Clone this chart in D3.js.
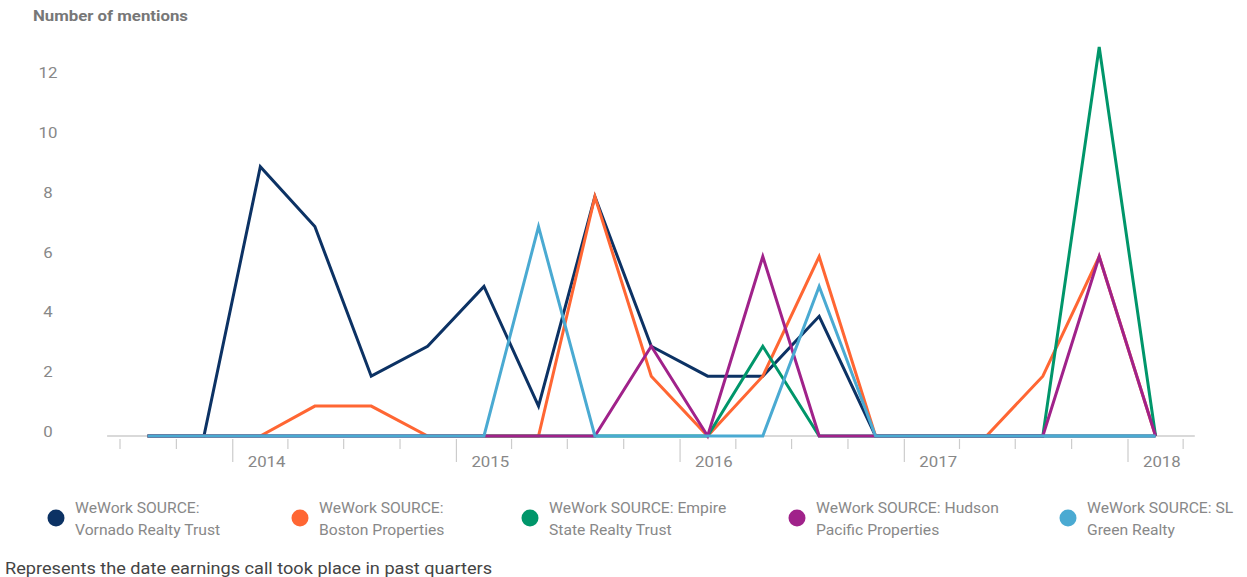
<!DOCTYPE html>
<html>
<head>
<meta charset="utf-8">
<script src="https://cdn.jsdelivr.net/npm/d3@7"></script>
<style>
  body { margin: 0; background: #fff; font-family: Roboto, "Noto Sans", sans-serif; }
  svg text { font-family: Roboto, "Noto Sans", sans-serif; }
</style>
</head>
<body>
<div id="chart"></div>
<script>
// earnings call dates (middle of each quarter)
const callDates = ["2013-08-15", "2013-11-15", "2014-02-15", "2014-05-15", "2014-08-15",
    "2014-11-15", "2015-02-15", "2015-05-15", "2015-08-15", "2015-11-15", "2016-02-15",
    "2016-05-15", "2016-08-15", "2016-11-15", "2017-02-15", "2017-05-15", "2017-08-15",
    "2017-11-15", "2018-02-15"];

const vornado   = [0, 0, 9, 7, 2, 3, 5, 1, 8, 3, 2, 2, 4, 0, 0, 0, 0, 0, 0];
const boston    = [0, 0, 0, 1, 1, 0, 0, 0, 8, 2, 0, 2, 6, 0, 0, 0, 2, 6, 0];
const empire    = [0, 0, 0, 0, 0, 0, 0, 0, 0, 0, 0, 3, 0, 0, 0, 0, 0, 13, 0];
const hudson    = [0, 0, 0, 0, 0, 0, 0, 0, 0, 3, 0, 6, 0, 0, 0, 0, 0, 6, 0];
const slGreen   = [0, 0, 0, 0, 0, 0, 0, 7, 0, 0, 0, 0, 5, 0, 0, 0, 0, 0, 0];

const seriesNames = ["WeWork SOURCE: Vornado Realty Trust", "WeWork SOURCE: Boston Properties",
    "WeWork SOURCE: Empire State Realty Trust", "WeWork SOURCE: Hudson Pacific Properties",
    "WeWork SOURCE: SL Green Realty"];
const legendLines = [["WeWork SOURCE:", "Vornado Realty Trust"], ["WeWork SOURCE:", "Boston Properties"],
    ["WeWork SOURCE: Empire", "State Realty Trust"], ["WeWork SOURCE: Hudson", "Pacific Properties"],
    ["WeWork SOURCE: SL", "Green Realty"]];
const seriesColors = ["#0c3264", "#ff6633", "#00966a", "#a0228a", "#4aaad2"];
const yTicks = [0, 2, 4, 6, 8, 10, 12];

const width = 1247, height = 577;
const parse = d3.timeParse("%Y-%m-%d");
const dates = callDates.map(parse);
const series = [vornado, boston, empire, hudson, slGreen].map((vals, i) => ({
    name: seriesNames[i],
    color: seriesColors[i],
    values: vals.map((v, j) => ({date: dates[j], value: v}))
}));

// the source picture is a bit wider than tall, so text gets a horizontal stretch
const stretch = 1.2;

const svg = d3.select("#chart").append("svg")
    .attr("width", width)
    .attr("height", height);

// scales
const x = d3.scaleTime()
    .domain([parse("2013-07-01"), parse("2018-01-01")])
    .range([120, 1128]);
const y = d3.scaleLinear()
    .domain([0, 12])
    .range([436, 77]);

// title
svg.append("text")
    .attr("transform", `translate(33, 21) scale(${stretch}, 1)`)
    .attr("font-size", 14)
    .attr("font-weight", "bold")
    .attr("fill", "#777")
    .text("Number of mentions");

// y labels (no axis line)
svg.append("g").selectAll("text")
    .data(yTicks)
    .enter().append("text")
    .attr("transform", d => `translate(48, ${y(d) + 1}) scale(${stretch}, 1)`)
    .attr("text-anchor", "middle")
    .attr("font-size", 14)
    .attr("fill", "#888")
    .text(d => d);

// x axis: baseline, quarter ticks, year ticks
const axisG = svg.append("g");
axisG.append("line")
    .attr("x1", x(parse("2013-06-10")))
    .attr("x2", x(parse("2018-04-20")))
    .attr("y1", y(0)).attr("y2", y(0))
    .attr("stroke", "#ccc")
    .attr("stroke-width", 1.5);

const quarterTicks = d3.timeMonth.every(3).range(parse("2013-07-01"), parse("2018-04-02"));
axisG.selectAll(".qtick")
    .data(quarterTicks)
    .enter().append("line")
    .attr("class", "qtick")
    .attr("x1", d => x(d)).attr("x2", d => x(d))
    .attr("y1", y(0) + 3)
    .attr("y2", d => d.getMonth() === 0 ? y(0) + 26 : y(0) + 13)
    .attr("stroke", "#ccc")
    .attr("stroke-width", 1.2);

axisG.selectAll(".ylab")
    .data(quarterTicks.filter(d => d.getMonth() === 0))
    .enter().append("text")
    .attr("transform", d => `translate(${x(d) + 15}, ${y(0) + 31}) scale(${stretch}, 1)`)
    .attr("font-size", 14)
    .attr("fill", "#888")
    .text(d => d.getFullYear());

// lines
const line = d3.line()
    .x(d => x(d.date))
    .y(d => y(d.value));

svg.append("g").selectAll("path")
    .data(series)
    .enter().append("path")
    .attr("d", d => line(d.values))
    .attr("fill", "none")
    .attr("stroke", d => d.color)
    .attr("stroke-width", 3);

// legend
const legendX = [56, 300, 530, 797, 1068];
const legend = svg.append("g").selectAll("g")
    .data(series)
    .enter().append("g")
    .attr("transform", (d, i) => `translate(${legendX[i]}, 518)`);

legend.append("circle")
    .attr("r", 8.5)
    .attr("fill", d => d.color);

legend.append("text")
    .attr("transform", "translate(19, 0) scale(1.12, 1)")
    .attr("font-size", 14)
    .attr("fill", "#888")
    .each(function(d, i) {
        d3.select(this).selectAll("tspan")
            .data(legendLines[i])
            .enter().append("tspan")
            .attr("x", 0)
            .attr("y", (t, k) => k === 0 ? -5 : 17)
            .text(t => t);
    });

// footnote
svg.append("text")
    .attr("transform", "translate(5, 574) scale(1.1, 1)")
    .attr("font-size", 16.5)
    .attr("fill", "#444")
    .text("Represents the date earnings call took place in past quarters");
</script>
</body>
</html>
